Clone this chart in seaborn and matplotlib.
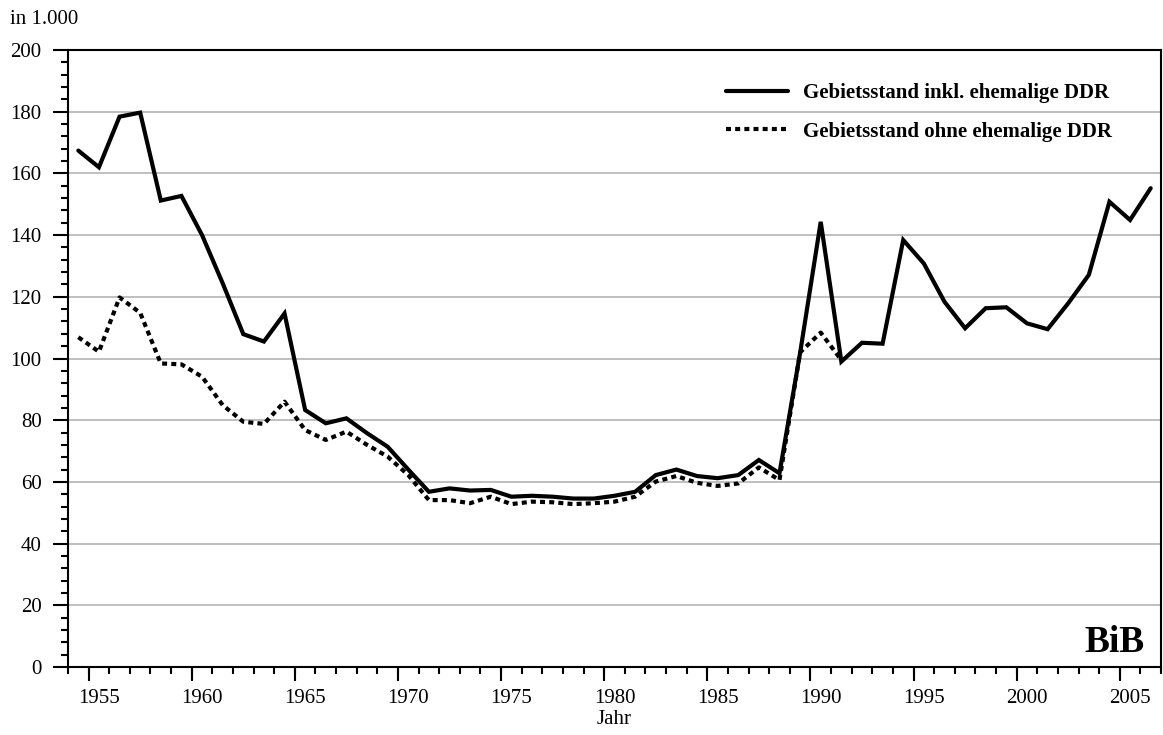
import numpy as np
import pandas as pd
import seaborn as sns
import matplotlib.pyplot as plt

# Lebendgeborene / Jahr, in 1.000
years = list(range(1954, 2007))
inkl_ddr = [167.4, 162.0, 178.4, 179.7, 151.2, 152.7, 140.0, 124.4, 107.9, 105.5,
            114.6, 83.3, 79.0, 80.6, 75.8, 71.4, 64.0, 56.8, 57.9, 57.2,
            57.4, 55.2, 55.5, 55.2, 54.6, 54.6, 55.5, 56.8, 62.2, 64.0,
            61.9, 61.2, 62.2, 67.1, 62.8, 101.8, 144.3, 99.0, 105.1, 104.8,
            138.4, 130.8, 118.4, 109.8, 116.3, 116.6, 111.4, 109.5, 117.9, 127.1,
            150.8, 144.9, 155.2]
ohne_years = list(range(1954, 1992))
ohne_ddr = [106.9, 102.2, 119.8, 114.8, 98.4, 98.1, 94.1, 84.9, 79.5, 78.8,
            86.0, 76.8, 73.6, 76.3, 72.0, 68.2, 62.2, 54.1, 54.1, 53.1,
            55.2, 52.8, 53.6, 53.4, 52.8, 53.1, 53.6, 55.2, 60.1, 61.9,
            59.7, 58.7, 59.5, 64.7, 60.6, 102.0, 108.4, 99.5]

label_inkl = "Gebietsstand inkl. ehemalige DDR"
label_ohne = "Gebietsstand ohne ehemalige DDR"
year_labels = list(range(1955, 2006, 5))

df_inkl = pd.DataFrame({"Jahr": years, "Wert": inkl_ddr})
df_ohne = pd.DataFrame({"Jahr": ohne_years, "Wert": ohne_ddr})

sns.set_style("white")
plt.rcParams['font.family'] = ['Liberation Serif', 'DejaVu Serif']
plt.rcParams['text.color'] = 'black'
plt.rcParams['axes.labelcolor'] = 'black'
plt.rcParams['xtick.color'] = 'black'
plt.rcParams['ytick.color'] = 'black'
plt.rcParams['xtick.bottom'] = True
plt.rcParams['ytick.left'] = True

fig = plt.figure(figsize=(11.63, 7.35), dpi=100)
ax = fig.add_axes([68/1163, 68/735, 1093/1163, 617/735])

sns.lineplot(data=df_inkl, x="Jahr", y="Wert", ax=ax, color="black", lw=3,
             label=label_inkl, solid_joinstyle="miter")
sns.lineplot(data=df_ohne, x="Jahr", y="Wert", ax=ax, color="black", lw=3,
             label=label_ohne, linestyle=(0, (1.2, 1.0)), dash_capstyle="butt")

ax.set_xlim(1953.5, 2006.5)
ax.set_ylim(0, 200)

# y axis
ax.set_yticks(np.arange(0, 201, 20))
ax.set_yticks(np.arange(0, 201, 4), minor=True)
ax.tick_params(axis="y", which="both", left=True, direction="out")
ax.tick_params(axis="y", which="major", length=11, width=1.5, labelsize=15, pad=8)
ax.tick_params(axis="y", which="minor", length=5, width=1.5)
ax.yaxis.grid(True, which="major", color="#b4b4b4", lw=1.2)
ax.set_axisbelow(True)

# x axis: labels centred in year categories, ticks at category borders
ax.set_xticks(year_labels)
ax.set_xticklabels([str(y) for y in year_labels])
ax.set_xticks(np.arange(1953.5, 2007, 1), minor=True)
ax.tick_params(axis="x", which="both", bottom=True, direction="out")
ax.tick_params(axis="x", which="major", length=0, labelsize=15, pad=16)
ax.tick_params(axis="x", which="minor", length=5, width=1.5)
sec = ax.secondary_xaxis("bottom")
sec.set_xticks(np.arange(1954.5, 2007, 5))
sec.set_xticklabels([])
sec.tick_params(bottom=True, direction="out", length=10, width=1.5)
sec.spines["bottom"].set_visible(False)

for s in ax.spines.values():
    s.set_color("black")
    s.set_linewidth(1.5)

ax.set_xlabel("Jahr", fontsize=15, labelpad=1)
ax.set_ylabel("")

leg = ax.legend(loc="upper right", bbox_to_anchor=(0.972, 0.977), frameon=False,
                handlelength=3.0, handletextpad=0.7, labelspacing=0.9,
                prop={"weight": "bold", "size": 15})

ax.text(0.985, 0.025, "BiB", transform=ax.transAxes, ha="right", va="baseline",
        fontsize=27, fontweight="bold")
fig.text(10/1163, 1 - 20/735, "in 1.000", ha="left", va="center", fontsize=15)

fig.savefig("out.png", dpi=100)
